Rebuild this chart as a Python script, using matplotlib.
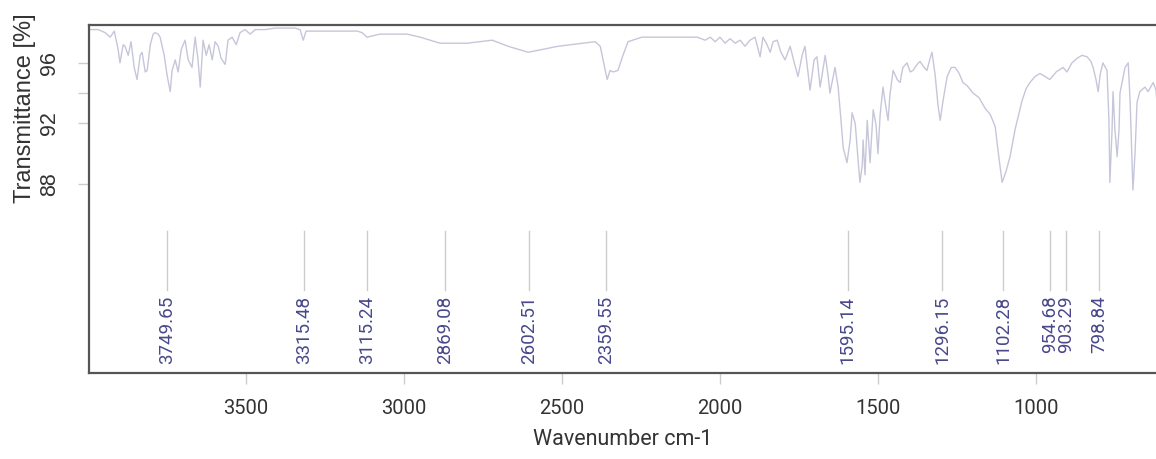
import matplotlib.pyplot as plt
from matplotlib.ticker import FixedLocator

# spectrum (wavenumber cm-1, transmittance %)
wn = [3992, 3967, 3945, 3929, 3916, 3904, 3898, 3888, 3882, 3872, 3863, 3853, 3844, 3834,
      3828, 3818, 3812, 3802, 3793, 3787, 3777, 3771, 3758, 3749, 3739, 3733, 3723, 3714,
      3704, 3692, 3682, 3670, 3660, 3651, 3644, 3635, 3625, 3616, 3606, 3597, 3587, 3578,
      3565, 3556, 3543, 3530, 3518, 3502, 3486, 3470, 3439, 3407, 3375,
      3344, 3328, 3318, 3309, 3264, 3147, 3132, 3116, 3075, 2989, 2948, 2885, 2799, 2758,
      2720, 2670, 2606, 2511, 2394, 2378, 2366, 2356, 2347, 2337, 2322, 2306, 2290, 2246, 2141,
      2071, 2046, 2030, 2014, 1999, 1983, 1967, 1951, 1935, 1920, 1904, 1888, 1872, 1863,
      1850, 1840, 1831, 1818, 1806, 1793, 1777, 1765, 1752, 1739, 1730, 1714, 1701, 1692,
      1682, 1666, 1657, 1651, 1635, 1625, 1616, 1609, 1597, 1587, 1581, 1571, 1562, 1556,
      1549, 1546, 1540, 1533, 1524,
      1514, 1505, 1499, 1492, 1483, 1477, 1467, 1461, 1451, 1438, 1429, 1420, 1407, 1397,
      1388, 1375, 1366, 1353, 1344, 1334, 1328, 1318, 1309, 1302, 1293, 1280, 1267, 1255,
      1242, 1230, 1217, 1198, 1179, 1160, 1144, 1128, 1119, 1106,
      1094, 1081, 1065, 1043, 1030, 1018, 1002, 986, 970, 955, 935, 913, 901, 885, 869,
      853, 837, 825, 818, 809, 802, 796, 787, 774, 768, 765, 758, 755, 749, 742, 736, 733,
      717, 707, 701, 692, 685, 679, 670, 654, 644, 628, 619, 612]
trans = [98.2, 98.2, 98.0, 97.7, 98.1, 96.9, 96.0, 97.2, 97.1, 96.5, 97.4, 95.7, 94.9, 96.5,
         96.7, 95.4, 95.5, 97.2, 97.9, 98.0, 97.9, 97.7, 96.5, 95.2, 94.1, 95.5, 96.2, 95.4,
         96.9, 97.5, 96.2, 95.7, 97.7, 96.2, 94.4, 97.5, 96.5, 97.2, 96.2, 97.4, 97.1, 96.3,
         95.9, 97.5, 97.7, 97.2, 98.0, 98.2, 97.9, 98.2, 98.2, 98.3, 98.3,
         98.3, 98.2, 97.5, 98.1, 98.1, 98.1, 98.0, 97.7, 97.9, 97.9, 97.7, 97.3, 97.3, 97.4,
         97.5, 97.1, 96.7, 97.1, 97.4, 97.1, 95.9, 94.9, 95.5, 95.4, 95.5, 96.5, 97.4, 97.7, 97.7,
         97.7, 97.5, 97.7, 97.4, 97.7, 97.3, 97.6, 97.3, 97.5, 97.1, 97.5, 97.7, 96.4, 97.7,
         97.2, 96.7, 97.4, 97.5, 96.7, 96.2, 97.1, 96.1, 95.1, 96.5, 97.1, 94.2, 96.2, 96.4,
         94.4, 96.5, 95.2, 94.0, 95.7, 94.4, 92.2, 90.4, 89.4, 90.9, 92.7, 92.0, 89.6, 88.1,
         89.2, 90.9, 88.6, 92.2, 89.4,
         92.9, 91.9, 90.0, 92.6, 94.4, 93.5, 92.2, 93.9, 95.5, 94.9, 94.7, 95.7, 96.0, 95.4,
         95.5, 95.9, 96.1, 95.7, 95.5, 96.3, 96.7, 95.2, 93.2, 92.2, 93.5, 95.1, 95.7, 95.7,
         95.3, 94.7, 94.5, 94.0, 93.7, 93.0, 92.6, 91.8, 90.2, 88.1,
         88.8, 89.8, 91.6, 93.5, 94.3, 94.7, 95.1, 95.3, 95.1, 94.9, 95.4, 95.7, 95.4, 96.0, 96.3,
         96.5, 96.4, 96.1, 95.7, 94.9, 94.1, 95.2, 96.0, 95.5, 92.2, 88.1, 91.6, 94.1, 91.6, 89.8,
         91.6, 94.0, 95.7, 96.0, 93.5, 87.6, 90.2, 93.4, 94.1, 94.4, 94.1, 94.7, 94.2, 92.4]

peaks = [3749.65, 3315.48, 3115.24, 2869.08, 2602.51, 2359.55,
         1595.14, 1296.15, 1102.28, 954.68, 903.29, 798.84]

fig = plt.figure(figsize=(11.56, 4.59), dpi=100)
ax = fig.add_axes([0.077, 0.1874, 0.923, 0.758])

ax.plot(wn, trans, color='#c6c6da', lw=1.0)

for p in peaks:
    ax.plot([p, p], [84.9, 81.0], color='#cccccc', lw=1.0)
    ax.text(p, 80.6, f'{p:.2f}', rotation=90, ha='center', va='top',
            color='#48488c', fontsize=13.5, family='Roboto')

ax.set_xlim(3996, 619)
ax.set_ylim(75.5, 98.5)

for s in ['left', 'bottom', 'top']:
    ax.spines[s].set_color('#555555')
    ax.spines[s].set_linewidth(1.6)
ax.spines['right'].set_visible(False)

ax.set_xticks([3500, 3000, 2500, 2000, 1500, 1000])
ax.set_yticks([88, 92, 96])
ax.yaxis.set_minor_locator(FixedLocator([94]))
ax.tick_params(axis='x', length=8, width=1, color='#cccccc', pad=11,
               labelsize=14.5, labelcolor='#333333')
ax.tick_params(axis='y', which='both', length=8, width=1, color='#cccccc', pad=13,
               labelsize=15.5, labelcolor='#333333')
for t in ax.get_xticklabels():
    t.set_family('Roboto')
for t in ax.get_yticklabels():
    t.set_rotation(90)
    t.set_va('center')
    t.set_family('Liberation Sans')

ax.set_xlabel('Wavenumber cm-1', fontsize=15.5, family='Roboto', color='#333333', labelpad=8)
ax.set_ylabel('Transmittance [%]', fontsize=17, family='Liberation Sans', color='#333333')
ax.yaxis.set_label_coords(-0.05, 0.76)

fig.savefig('out.png', dpi=100)
